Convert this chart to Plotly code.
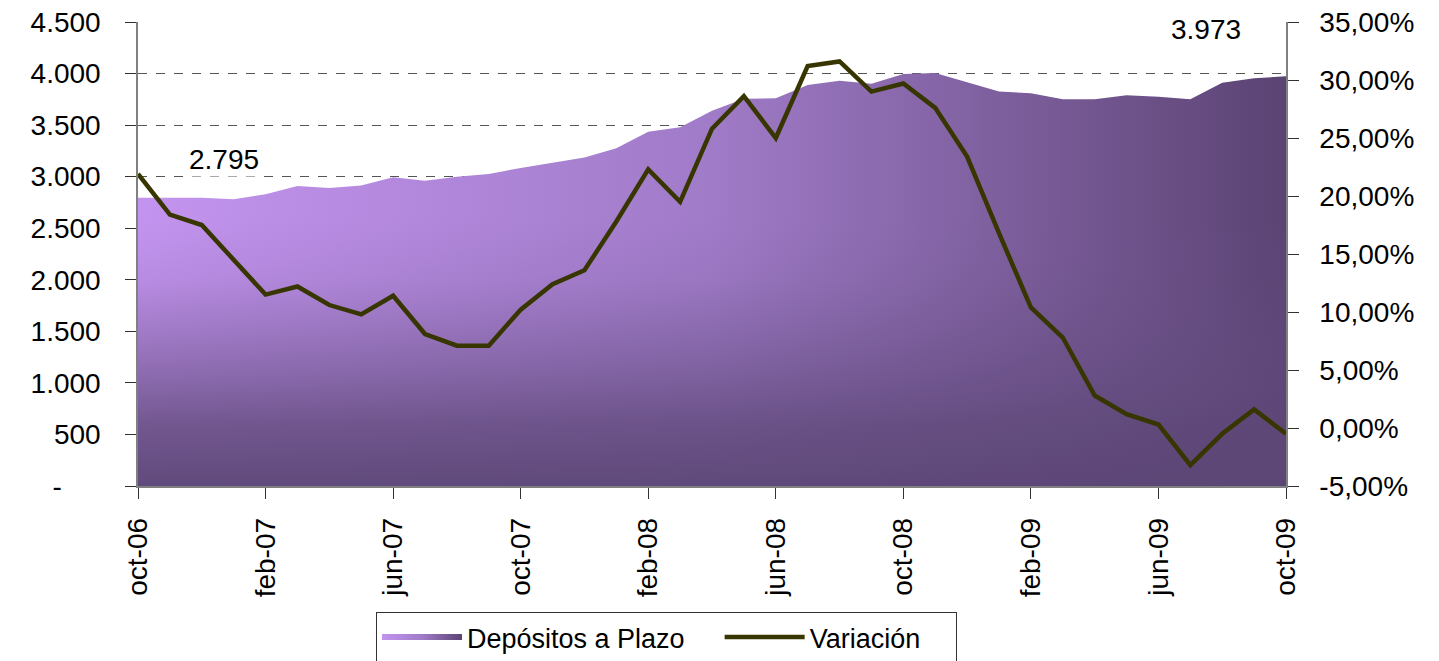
import plotly.graph_objects as go

months = ["oct-06","nov-06","dic-06","ene-07","feb-07","mar-07","abr-07","may-07","jun-07","jul-07",
          "ago-07","sep-07","oct-07","nov-07","dic-07","ene-08","feb-08","mar-08","abr-08","may-08",
          "jun-08","jul-08","ago-08","sep-08","oct-08","nov-08","dic-08","ene-09","feb-09","mar-09",
          "abr-09","may-09","jun-09","jul-09","ago-09","sep-09","oct-09"]
depositos = [2795, 2795, 2795, 2780, 2830, 2910, 2890, 2915, 2995, 2960, 3000, 3025, 3085, 3135,
             3185, 3275, 3435, 3480, 3640, 3755, 3760, 3890, 3930, 3900, 3995, 4005, 3915, 3825,
             3810, 3750, 3750, 3790, 3775, 3750, 3910, 3955, 3973]
variacion = [21.9, 18.4, 17.5, 14.5, 11.5, 12.2, 10.6, 9.8, 11.4, 8.1, 7.1, 7.1, 10.2, 12.4,
             13.6, 17.8, 22.3, 19.5, 25.8, 28.6, 25.0, 31.2, 31.6, 29.0, 29.7, 27.6, 23.4, 16.8,
             10.4, 7.8, 2.8, 1.2, 0.3, -3.2, -0.5, 1.6, -0.5]
left_ticks = [0, 500, 1000, 1500, 2000, 2500, 3000, 3500, 4000, 4500]
left_labels = ["-" + "\u00a0" * 5, "500", "1.000", "1.500", "2.000", "2.500", "3.000", "3.500", "4.000", "4.500"]
right_ticks = [-5, 0, 5, 10, 15, 20, 25, 30, 35]
right_labels = [f"{v:.2f}".replace(".", ",") + "%" for v in right_ticks]
x_labels = months[::4]

FONT = "Liberation Sans, Arial, sans-serif"
FS = 28
NB = "\u00a0"

fig = go.Figure()
# horizontal gradient area
fig.add_trace(go.Scatter(
    x=months, y=depositos, name="Depósitos a Plazo" + NB * 4, mode="none", fill="tozeroy",
    fillcolor="#9C78C4",
    fillgradient=dict(type="horizontal", colorscale=[[0, "#C394EF"], [0.5, "#A07BC8"], [1, "#5B4373"]]),
    yaxis="y", hoverinfo="skip"))
# vertical darkening overlay
fig.add_trace(go.Scatter(
    x=months, y=depositos, mode="none", fill="tozeroy", showlegend=False,
    fillgradient=dict(type="vertical", start=0, stop=4000,
                      colorscale=[[0, "rgba(92,70,118,0.95)"], [0.15, "rgba(94,72,120,0.8)"],
                                  [0.3, "rgba(98,75,126,0.5)"], [0.5, "rgba(104,80,134,0.12)"],
                                  [0.65, "rgba(120,90,160,0)"], [1, "rgba(140,100,180,0)"]]),
    yaxis="y", hoverinfo="skip"))
fig.add_trace(go.Scatter(
    x=months, y=variacion, name="Variación" + NB * 4, mode="lines",
    line=dict(color="#383600", width=4.5), yaxis="y2"))

fig.add_annotation(x=2.7, y=3165, xref="x", yref="y", text=f"{depositos[0]:,}".replace(",", "."),
                   showarrow=False, font=dict(size=FS, color="black", family=FONT), bgcolor="white")
fig.add_annotation(x=33.5, y=4430, xref="x", yref="y", text=f"{depositos[-1]:,}".replace(",", "."),
                   showarrow=False, font=dict(size=FS, color="black", family=FONT), bgcolor="white")

axis_common = dict(showline=True, linecolor="#808080", linewidth=1.5, ticks="outside", ticklen=11,
                   tickcolor="#333", tickfont=dict(size=FS, family=FONT, color="black"), automargin=False)

fig.update_layout(
    width=1431, height=653, paper_bgcolor="white", plot_bgcolor="white",
    margin=dict(l=130, r=153, t=14, b=175, autoexpand=False),
    font=dict(family=FONT, size=FS, color="black"),
    xaxis=dict(type="category", range=[0, 36], tickmode="array", tickvals=x_labels, ticktext=x_labels,
               tickangle=-90, showgrid=False, ticklabelstandoff=8, **axis_common),
    yaxis=dict(range=[0, 4500], tickmode="array", tickvals=left_ticks, ticktext=left_labels,
               showgrid=True, gridcolor="#555555", griddash="dash", gridwidth=1,
               zeroline=False, ticklabelstandoff=19, ticklabeloverflow="allow", **axis_common),
    yaxis2=dict(range=[-5, 35], overlaying="y", side="right", tickmode="array", tickvals=right_ticks,
                ticktext=right_labels, showgrid=False, zeroline=False, ticklabelstandoff=15,
                ticklabeloverflow="allow", **axis_common),
    legend=dict(orientation="h", x=(376 - 138) / 1148, xanchor="left", y=-0.2716, yanchor="top",
                bordercolor="#333", borderwidth=1, bgcolor="white",
                font=dict(size=27, family=FONT), itemwidth=80, tracegroupgap=0),
    showlegend=True,
)

fig.write_html("out.html")
